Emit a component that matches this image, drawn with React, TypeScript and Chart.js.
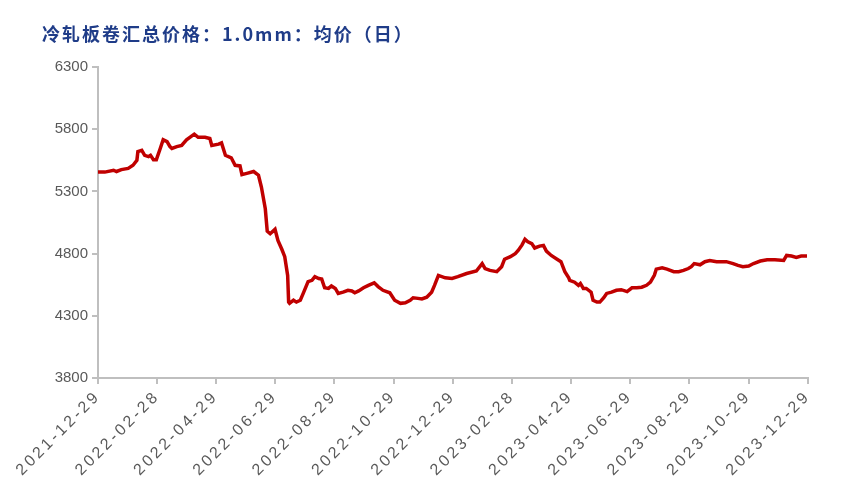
import React, { useEffect, useRef } from "react";
import { Chart, registerables } from "chart.js";

Chart.register(...registerables);

const TITLE = "冷轧板卷汇总价格：1.0mm：均价（日）";

const dates = [
  "2021-12-29", "2022-01-05", "2022-01-14", "2022-01-17", "2022-01-22", "2022-01-29",
  "2022-02-03", "2022-02-07", "2022-02-08", "2022-02-12", "2022-02-15", "2022-02-19",
  "2022-02-21", "2022-02-24", "2022-02-27", "2022-03-03", "2022-03-06", "2022-03-10",
  "2022-03-13", "2022-03-15", "2022-03-20", "2022-03-25", "2022-03-30", "2022-04-07",
  "2022-04-11", "2022-04-18", "2022-04-23", "2022-04-25", "2022-05-02", "2022-05-05",
  "2022-05-09", "2022-05-15", "2022-05-19", "2022-05-24", "2022-05-26", "2022-05-31",
  "2022-06-07", "2022-06-12", "2022-06-15", "2022-06-19", "2022-06-21", "2022-06-24",
  "2022-06-29", "2022-07-02", "2022-07-06", "2022-07-09", "2022-07-12", "2022-07-13",
  "2022-07-14", "2022-07-18", "2022-07-21", "2022-07-25", "2022-07-28", "2022-08-02",
  "2022-08-06", "2022-08-09", "2022-08-13", "2022-08-16", "2022-08-19", "2022-08-23",
  "2022-08-26", "2022-08-30", "2022-09-02", "2022-09-07", "2022-09-12", "2022-09-16",
  "2022-09-19", "2022-09-23", "2022-09-28", "2022-10-03", "2022-10-09", "2022-10-13",
  "2022-10-18", "2022-10-25", "2022-10-30", "2022-11-05", "2022-11-10", "2022-11-15",
  "2022-11-18", "2022-11-23", "2022-11-27", "2022-12-02", "2022-12-07", "2022-12-10",
  "2022-12-14", "2022-12-21", "2022-12-28", "2023-01-03", "2023-01-12", "2023-01-22",
  "2023-01-28", "2023-01-31", "2023-02-05", "2023-02-12", "2023-02-17", "2023-02-20",
  "2023-02-26", "2023-03-03", "2023-03-06", "2023-03-10", "2023-03-13", "2023-03-16",
  "2023-03-20", "2023-03-23", "2023-03-28", "2023-04-01", "2023-04-04", "2023-04-09",
  "2023-04-15", "2023-04-19", "2023-04-23", "2023-04-27", "2023-04-28", "2023-05-03",
  "2023-05-07", "2023-05-09", "2023-05-12", "2023-05-15", "2023-05-20", "2023-05-22",
  "2023-05-26", "2023-05-29", "2023-06-02", "2023-06-05", "2023-06-10", "2023-06-15",
  "2023-06-20", "2023-06-26", "2023-07-01", "2023-07-06", "2023-07-11", "2023-07-16",
  "2023-07-20", "2023-07-24", "2023-07-26", "2023-08-01", "2023-08-06", "2023-08-13",
  "2023-08-18", "2023-08-23", "2023-08-28", "2023-08-31", "2023-09-03", "2023-09-09",
  "2023-09-14", "2023-09-19", "2023-09-26", "2023-10-06", "2023-10-13", "2023-10-18",
  "2023-10-23", "2023-10-29", "2023-11-03", "2023-11-10", "2023-11-17", "2023-11-25",
  "2023-12-04", "2023-12-07", "2023-12-12", "2023-12-17", "2023-12-22", "2023-12-28",
];

const prices = [
  5455, 5455, 5470, 5460, 5475, 5485,
  5510, 5550, 5620, 5630, 5590, 5580,
  5590, 5555, 5555, 5645, 5715, 5700,
  5660, 5645, 5660, 5670, 5715, 5760,
  5735, 5735, 5725, 5670, 5680, 5690,
  5590, 5570, 5510, 5505, 5435, 5445,
  5460, 5430, 5335, 5160, 4980, 4960,
  4995, 4905, 4835, 4775, 4625, 4410,
  4400, 4425, 4410, 4425, 4480, 4575,
  4585, 4615, 4600, 4595, 4525, 4520,
  4540, 4520, 4480, 4490, 4505, 4500,
  4485, 4500, 4525, 4545, 4565, 4535,
  4505, 4485, 4425, 4400, 4405, 4425,
  4445, 4440, 4435, 4450, 4490, 4545,
  4625, 4605, 4600, 4615, 4640, 4660,
  4720, 4680, 4665, 4655, 4695, 4755,
  4775, 4800, 4825, 4870, 4915, 4895,
  4880, 4845, 4860, 4865, 4820, 4785,
  4755, 4735, 4655, 4605, 4585, 4570,
  4545, 4560, 4520, 4520, 4490, 4425,
  4410, 4410, 4445, 4480, 4490, 4505,
  4510, 4495, 4525, 4525, 4530, 4545,
  4570, 4625, 4675, 4685, 4675, 4655,
  4655, 4665, 4680, 4695, 4720, 4710,
  4735, 4745, 4735, 4735, 4720, 4705,
  4695, 4700, 4720, 4740, 4750, 4750,
  4745, 4785, 4780, 4770, 4780, 4780,
];

const tickDates = [
  "2021-12-29", "2022-02-28", "2022-04-29", "2022-06-29", "2022-08-29",
  "2022-10-29", "2022-12-29", "2023-02-28", "2023-04-29", "2023-06-29",
  "2023-08-29", "2023-10-29", "2023-12-29",
];

const yTicks = [3800, 4300, 4800, 5300, 5800, 6300];

const DAY_MS = 86400000;
const START = Date.parse(tickDates[0]);
const toDay = (d: string) => Math.round((Date.parse(d) - START) / DAY_MS);

const AXIS_COLOR = "#bfbfbf";
const LABEL_COLOR = "#595959";

const xLabelSpacing = {
  id: "xLabelSpacing",
  afterLayout(chart: any) {
    const xs = chart.scales.x;
    if (xs && !xs.__patched) {
      const orig = xs.drawLabels.bind(xs);
      xs.drawLabels = (area: any) => {
        const ctx = chart.ctx as any;
        const prev = ctx.letterSpacing;
        ctx.letterSpacing = "3px";
        orig(area);
        ctx.letterSpacing = prev || "0px";
      };
      xs.__patched = true;
    }
  },
};

export default function App() {
  const canvasRef = useRef<HTMLCanvasElement | null>(null);

  useEffect(() => {
    if (!canvasRef.current) return;
    const chart = new Chart(canvasRef.current, {
      type: "line",
      data: {
        datasets: [
          {
            label: TITLE,
            data: dates.map((d, i) => ({ x: toDay(d), y: prices[i] })),
            borderColor: "#c00000",
            borderWidth: 3.5,
            pointRadius: 0,
            tension: 0,
            fill: false,
          },
        ],
      },
      options: {
        animation: false,
        responsive: false,
        layout: { padding: { left: 40, right: 45, top: 67, bottom: 0 } },
        plugins: {
          legend: { display: false },
          tooltip: { enabled: false },
          title: { display: false },
        },
        scales: {
          x: {
            type: "linear",
            min: toDay(tickDates[0]),
            max: toDay(tickDates[tickDates.length - 1]),
            afterBuildTicks: (scale: any) => {
              scale.ticks = tickDates.map((d) => ({ value: toDay(d) }));
            },
            afterFit: (scale: any) => {
              scale.height = 123;
            },
            ticks: {
              autoSkip: false,
              minRotation: 45,
              maxRotation: 45,
              color: LABEL_COLOR,
              font: { family: "Liberation Sans", size: 16 },
              padding: 3,
              callback: (_v: any, i: number) => tickDates[i],
            },
            grid: {
              display: true,
              drawOnChartArea: false,
              drawTicks: true,
              tickLength: 6,
              color: AXIS_COLOR,
              lineWidth: 2,
            },
            border: { display: true, color: AXIS_COLOR, width: 2 },
          },
          y: {
            type: "linear",
            min: yTicks[0],
            max: yTicks[yTicks.length - 1],
            afterBuildTicks: (scale: any) => {
              scale.ticks = yTicks.map((v) => ({ value: v }));
            },
            afterFit: (scale: any) => {
              scale.width = 58;
            },
            ticks: {
              color: LABEL_COLOR,
              font: { family: "Liberation Sans", size: 15 },
              padding: 4,
              callback: (v: any) => String(v),
            },
            grid: {
              display: true,
              drawOnChartArea: false,
              drawTicks: true,
              tickLength: 6,
              color: AXIS_COLOR,
              lineWidth: 2,
            },
            border: { display: true, color: AXIS_COLOR, width: 2 },
          },
        },
      },
      plugins: [xLabelSpacing],
    });
    return () => chart.destroy();
  }, []);

  return (
    <div style={{ position: "absolute", left: 0, top: 0, width: 853, height: 501, background: "#fff" }}>
      <div
        style={{
          position: "absolute",
          left: 42,
          top: 22,
          fontFamily: "'Noto Sans CJK SC', sans-serif",
          fontWeight: 700,
          fontSize: 18,
          lineHeight: "22px",
          letterSpacing: "2px",
          color: "#1f3c88",
          whiteSpace: "nowrap",
        }}
      >
        {TITLE}
      </div>
      <canvas ref={canvasRef} width={853} height={501} style={{ display: "block", width: 853, height: 501 }} />
    </div>
  );
}
